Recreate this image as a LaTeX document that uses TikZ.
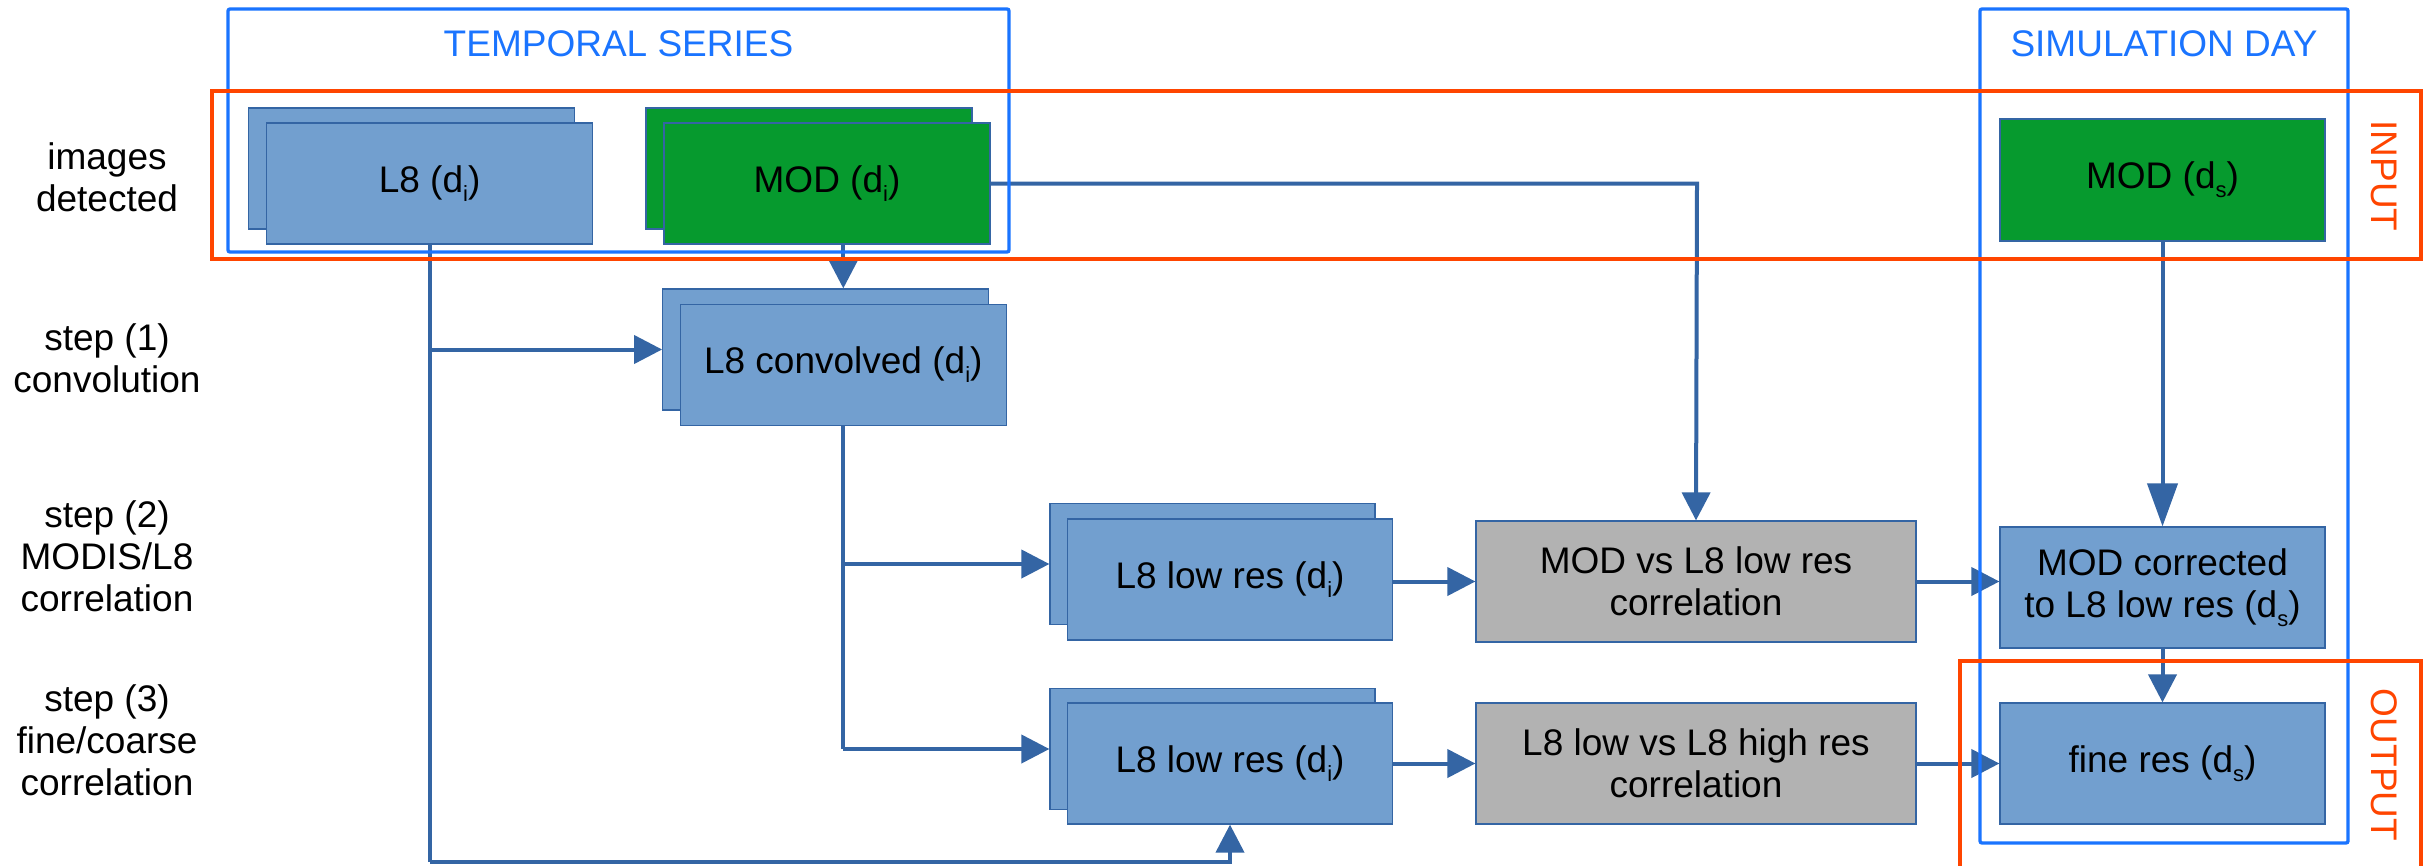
\documentclass[tikz,border=0pt]{standalone}
\usepackage{fontspec}
\setmainfont{Liberation Sans}
\usetikzlibrary{arrows.meta}
\definecolor{boxblue}{HTML}{729FCF}
\definecolor{boxgreen}{HTML}{069A2E}
\definecolor{boxgray}{HTML}{B2B2B2}
\definecolor{linkblue}{HTML}{3465A4}
\definecolor{frameblue}{HTML}{1A74FF}
\definecolor{frameorange}{HTML}{FF4500}
\newcommand{\sbs}[1]{\raisebox{-0.45ex}{\fontsize{22}{22}\selectfont #1}}
\tikzset{
  txt/.style={font=\fontsize{37}{42}\selectfont, align=center, inner sep=0pt},
  basebox/.style={txt, draw=linkblue, line width=1.2pt, minimum width=326pt, minimum height=121pt, text=black},
  bluebox/.style={basebox, fill=boxblue},
  greenbox/.style={basebox, fill=boxgreen},
  graybox/.style={basebox, fill=boxgray, minimum width=440pt},
  link/.style={draw=linkblue, line width=4pt},
  arr/.style={link, -{Triangle[length=28pt,width=28pt]}},
  longarr/.style={link, -{Triangle[length=43pt,width=30pt]}},
  bframe/.style={draw=frameblue, line width=3.3pt},
  oframe/.style={draw=frameorange, line width=3.2pt},
  lefttxt/.style={txt, text=black},
}
\begin{document}
\begin{tikzpicture}[x=1pt,y=-1pt]
\clip (0,0) rectangle (2431,865);
\fill[white] (0,0) rectangle (2431,865);

% boxes
\node[bluebox] (l8b) at (411.5,168.5) {};
\node[bluebox] (l8f) at (429.6,183.5) {L8 (d\sbs{i})};
\node[greenbox] (modb) at (809,168.5) {};
\node[greenbox] (modf) at (827,183.5) {MOD (d\sbs{i})};
\node[bluebox] (convb) at (825.7,349.5) {};
\node[bluebox] (convf) at (843.3,364.8) {L8 convolved (d\sbs{i})};
\node[bluebox, minimum width=325pt] (lr1b) at (1212.5,564) {};
\node[bluebox, minimum width=325pt] (lr1f) at (1230,579.5) {L8 low res (d\sbs{i})};
\node[bluebox, minimum width=325pt] (lr2b) at (1212.5,749) {};
\node[bluebox, minimum width=325pt] (lr2f) at (1230,763.5) {L8 low res (d\sbs{i})};
\node[graybox] (g1) at (1696,581.5) {MOD vs L8 low res\\correlation};
\node[graybox] (g2) at (1696,763.5) {L8 low vs L8 high res\\correlation};
\node[greenbox, minimum width=325pt, minimum height=122pt] (mods) at (2162.5,180) {MOD (d\sbs{s})};
\node[bluebox, minimum width=325pt] (modc) at (2162.5,587.5) {MOD corrected\\to L8 low res (d\sbs{s})};
\node[bluebox, minimum width=325pt] (fine) at (2162.5,763.5) {fine res (d\sbs{s})};

% connectors
\coordinate (bl) at (429.6,862);
\coordinate (br) at (1230,862);
\coordinate (mk) at (1697,183.5);
\draw[link] (l8f.south) -- (bl);
\draw[arr] (l8f.south |- convb.west) -- (convb.west);
\draw[arr] (convf.south |- modf.south) -- (convf.south |- convb.north);
\draw[link] (convf.south) -- (convf.south |- lr2b.west);
\draw[arr] (convf.south |- lr1b.west) -- (lr1b.west);
\draw[arr] (convf.south |- lr2b.west) -- (lr2b.west);
\draw[arr] (bl) -- (br) -- (lr2f.south);
\draw[arr] (modf.east) -- (mk) -- (g1.north);
\draw[arr] (lr1f.east |- g1.west) -- (g1.west);
\draw[arr] (g1.east) -- (g1.east -| modc.west);
\draw[arr] (lr2f.east |- g2.west) -- (g2.west);
\draw[arr] (g2.east) -- (fine.west);
\draw[longarr] (mods.south) -- (modc.north);
\draw[arr] (modc.south) -- (fine.north);

% frames
\draw[bframe, rounded corners=2pt] (228,9) rectangle (1009,252);
\draw[bframe, rounded corners=2pt] (1980,9) rectangle (2348,843);
\draw[oframe] (212,91) rectangle (2421,259);
\draw[oframe] (1960,661) rectangle (2421,900);

% frame labels
\node[txt, text=frameblue, anchor=base] (ts) at (618.5,56) {TEMPORAL SERIES};
\node[txt, text=frameblue, anchor=base] (sd) at (2164,56) {SIMULATION DAY};
\node[txt, text=frameorange, rotate=-90] (inp) at (2384,176) {INPUT};
\node[txt, text=frameorange, rotate=-90] (outp) at (2384,765) {OUTPUT};

% row labels
\node[lefttxt] (r0) at (107,177) {images\\detected};
\node[lefttxt] (r1) at (107,358) {step (1)\\convolution};
\node[lefttxt] (r2) at (107,556) {step (2)\\MODIS/L8\\correlation};
\node[lefttxt] (r3) at (107,740) {step (3)\\fine/coarse\\correlation};
\end{tikzpicture}
\end{document}
